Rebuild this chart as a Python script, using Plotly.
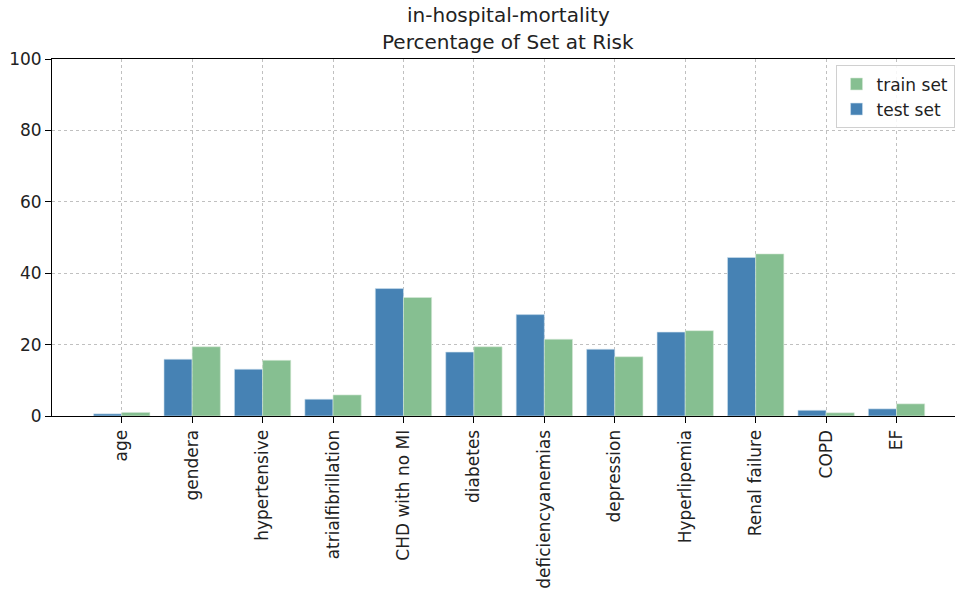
import plotly.graph_objects as go

categories = ["age", "gendera", "hypertensive", "atrialfibrillation", "CHD with no MI",
              "diabetes", "deficiencyanemias", "depression", "Hyperlipemia",
              "Renal failure", "COPD", "EF"]
test_set = [0.6, 15.9, 13.1, 4.7, 35.7, 17.9, 28.4, 18.7, 23.5, 44.4, 1.6, 2.0]
train_set = [1.0, 19.4, 15.6, 5.9, 33.2, 19.4, 21.5, 16.6, 23.9, 45.4, 0.9, 3.4]
y_ticks = [0, 20, 40, 60, 80, 100]

xs = list(range(len(categories)))

fig = go.Figure()
fig.add_trace(go.Bar(x=xs, y=test_set, name="test set", marker_color="#4682b4",
                     marker_line=dict(color="#cfe0ee", width=0.6),
                     width=0.4, offset=-0.4))
fig.add_trace(go.Bar(x=xs, y=train_set, name="train set", marker_color="#86bf91",
                     marker_line=dict(color="#d6ead9", width=0.6),
                     width=0.4, offset=0.0))

font_family = "DejaVu Sans"
fig.update_layout(
    width=957, height=591,
    margin=dict(l=52, r=2, t=59, b=175, autoexpand=False),
    plot_bgcolor="white", paper_bgcolor="white",
    font=dict(family=font_family, size=17, color="#222"),
    showlegend=True,
    legend=dict(x=0.9995, y=0.982, xanchor="right", yanchor="top",
                bgcolor="rgba(255,255,255,0.85)", bordercolor="#d0d0d0", borderwidth=1,
                traceorder="reversed", font=dict(size=17), itemwidth=30),
    bargap=0.2,
    annotations=[
        dict(text="in-hospital-mortality", xref="paper", yref="paper",
             x=0.505, y=1.0, yshift=44, xanchor="center", yanchor="middle",
             showarrow=False, font=dict(size=20, color="#222")),
        dict(text="Percentage of Set at Risk", xref="paper", yref="paper",
             x=0.505, y=1.0, yshift=17, xanchor="center", yanchor="middle",
             showarrow=False, font=dict(size=20, color="#222")),
    ],
)
fig.update_xaxes(
    range=[-0.99, 11.83], tickmode="array", tickvals=xs, ticktext=categories,
    tickangle=-90, ticks="outside", ticklen=6, tickcolor="black",
    showline=True, linecolor="black", linewidth=1, mirror=True,
    showgrid=True, gridcolor="#c0c0c0", griddash="dot", gridwidth=1,
    tickfont=dict(size=17), zeroline=False, automargin=False,
)
fig.update_yaxes(
    range=[0, 100], tickmode="array", tickvals=y_ticks,
    ticks="outside", ticklen=6, tickcolor="black",
    showline=True, linecolor="black", linewidth=1,
    showgrid=True, gridcolor="#c0c0c0", griddash="dot", gridwidth=1,
    tickfont=dict(size=17), zeroline=False, automargin=False,
)

fig.write_html("out.html", config={"displayModeBar": False},
               post_script="document.body.style.margin='0';")
